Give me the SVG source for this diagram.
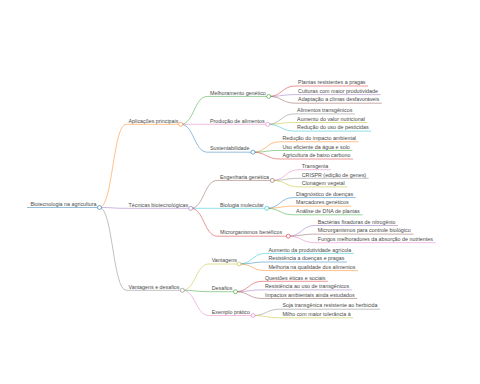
<svg xmlns="http://www.w3.org/2000/svg" width="480" height="384" viewBox="0 0 480 384">
<style>
text{font-family:"Liberation Sans",Arial,sans-serif;font-size:5.35px;fill:#4a4a4a}
path,line{fill:none;stroke-width:0.65;stroke-opacity:0.75}
circle{fill:#fff;stroke-width:0.7;stroke-opacity:0.85}
.blue{stroke:#1f77b4}.orange{stroke:#ff7f0e}.green{stroke:#2ca02c}.red{stroke:#d62728}.purple{stroke:#9467bd}
.brown{stroke:#8c564b}.pink{stroke:#e377c2}.gray{stroke:#7f7f7f}.olive{stroke:#bcbd22}.cyan{stroke:#17becf}
</style>
<rect width="480" height="384" fill="#fff"/>
<g id="connectors">
<path class="orange" d="M99.5,207.5C112.85,207.5 112.85,124.3 126.2,124.3"/>
<path class="purple" d="M99.5,207.5C112.85,207.5 112.85,208.3 126.2,208.3"/>
<path class="gray" d="M99.5,207.5C112.85,207.5 112.85,290.3 126.2,290.3"/>
<path class="green" d="M180.7,124.3C194.05,124.3 194.05,96.4 207.4,96.4"/>
<path class="pink" d="M180.7,124.3C194.05,124.3 194.05,124.3 207.4,124.3"/>
<path class="blue" d="M180.7,124.3C194.05,124.3 194.05,152.2 207.4,152.2"/>
<path class="brown" d="M190.7,208.3C204.05,208.3 204.05,180.4 217.4,180.4"/>
<path class="cyan" d="M190.7,208.3C204.05,208.3 204.05,208.3 217.4,208.3"/>
<path class="red" d="M190.7,208.3C204.05,208.3 204.05,236.2 217.4,236.2"/>
<path class="olive" d="M182.3,290.3C195.65,290.3 195.65,264 209,264"/>
<path class="green" d="M182.3,290.3C195.65,290.3 195.65,291.7 209,291.7"/>
<path class="pink" d="M182.3,290.3C195.65,290.3 195.65,315.5 209,315.5"/>
<path class="red" d="M268.7,96.4C282.05,96.4 282.05,86 295.4,86"/>
<path class="purple" d="M268.7,96.4C282.05,96.4 282.05,94.6 295.4,94.6"/>
<path class="brown" d="M268.7,96.4C282.05,96.4 282.05,103.2 295.4,103.2"/>
<path class="gray" d="M267.7,124.3C281.05,124.3 281.05,113.9 294.4,113.9"/>
<path class="olive" d="M267.7,124.3C281.05,124.3 281.05,122.5 294.4,122.5"/>
<path class="cyan" d="M267.7,124.3C281.05,124.3 281.05,131.1 294.4,131.1"/>
<path class="orange" d="M253,152.2C266.35,152.2 266.35,141.8 279.7,141.8"/>
<path class="green" d="M253,152.2C266.35,152.2 266.35,150.4 279.7,150.4"/>
<path class="red" d="M253,152.2C266.35,152.2 266.35,159 279.7,159"/>
<path class="pink" d="M272.3,180.4C285.65,180.4 285.65,169.7 299,169.7"/>
<path class="gray" d="M272.3,180.4C285.65,180.4 285.65,178.3 299,178.3"/>
<path class="olive" d="M272.3,180.4C285.65,180.4 285.65,186.9 299,186.9"/>
<path class="blue" d="M266.7,208.3C280.05,208.3 280.05,197.6 293.4,197.6"/>
<path class="orange" d="M266.7,208.3C280.05,208.3 280.05,206.2 293.4,206.2"/>
<path class="green" d="M266.7,208.3C280.05,208.3 280.05,214.8 293.4,214.8"/>
<path class="purple" d="M288.3,236.2C301.65,236.2 301.65,225.5 315,225.5"/>
<path class="brown" d="M288.3,236.2C301.65,236.2 301.65,234.1 315,234.1"/>
<path class="pink" d="M288.3,236.2C301.65,236.2 301.65,242.7 315,242.7"/>
<path class="cyan" d="M239,264C252.35,264 252.35,253.4 265.7,253.4"/>
<path class="blue" d="M239,264C252.35,264 252.35,262 265.7,262"/>
<path class="orange" d="M239,264C252.35,264 252.35,270.6 265.7,270.6"/>
<path class="red" d="M235.5,291.7C248.85,291.7 248.85,281.3 262.2,281.3"/>
<path class="purple" d="M235.5,291.7C248.85,291.7 248.85,289.9 262.2,289.9"/>
<path class="brown" d="M235.5,291.7C248.85,291.7 248.85,298.5 262.2,298.5"/>
<path class="gray" d="M253,315.5C266.35,315.5 266.35,309.2 279.7,309.2"/>
<path class="olive" d="M253,315.5C266.35,315.5 266.35,317.8 279.7,317.8"/>
</g>
<g id="root"><line class="blue" x1="27" y1="207.5" x2="99.5" y2="207.5"/><text x="30.5" y="205.7">Biotecnologia na agricultura</text><circle class="blue" cx="99.5" cy="207.5" r="2"/></g>
<g id="aplicacoes"><line class="orange" x1="126.2" y1="124.3" x2="180.7" y2="124.3"/><text x="128.5" y="122.5">Aplicações principais</text><circle class="orange" cx="180.7" cy="124.3" r="2"/></g>
<g id="tecnicas"><line class="purple" x1="126.2" y1="208.3" x2="190.7" y2="208.3"/><text x="128.5" y="206.5">Técnicas biotecnológicas</text><circle class="purple" cx="190.7" cy="208.3" r="2"/></g>
<g id="vantagens-desafios"><line class="gray" x1="126.2" y1="290.3" x2="182.3" y2="290.3"/><text x="128.5" y="288.5">Vantagens e desafios</text><circle class="gray" cx="182.3" cy="290.3" r="2"/></g>
<g id="melhoramento"><line class="green" x1="207.4" y1="96.4" x2="268.7" y2="96.4"/><text x="210" y="94.6">Melhoramento genético</text><circle class="green" cx="268.7" cy="96.4" r="2"/></g>
<g id="producao"><line class="pink" x1="207.4" y1="124.3" x2="267.7" y2="124.3"/><text x="210" y="122.5">Produção de alimentos</text><circle class="pink" cx="267.7" cy="124.3" r="2"/></g>
<g id="sustentabilidade"><line class="blue" x1="207.4" y1="152.2" x2="253" y2="152.2"/><text x="210" y="150.4">Sustentabilidade</text><circle class="blue" cx="253" cy="152.2" r="2"/></g>
<g id="engenharia"><line class="brown" x1="217.4" y1="180.4" x2="272.3" y2="180.4"/><text x="220" y="178.6">Engenharia genética</text><circle class="brown" cx="272.3" cy="180.4" r="2"/></g>
<g id="biologia"><line class="cyan" x1="217.4" y1="208.3" x2="266.7" y2="208.3"/><text x="220" y="206.5">Biologia molecular</text><circle class="cyan" cx="266.7" cy="208.3" r="2"/></g>
<g id="microrganismos"><line class="red" x1="217.4" y1="236.2" x2="288.3" y2="236.2"/><text x="220" y="234.4">Microrganismos benéficos</text><circle class="red" cx="288.3" cy="236.2" r="2"/></g>
<g id="vantagens"><line class="olive" x1="209" y1="264" x2="239" y2="264"/><text x="211.7" y="262.2">Vantagens</text><circle class="olive" cx="239" cy="264" r="2"/></g>
<g id="desafios"><line class="green" x1="209" y1="291.7" x2="235.5" y2="291.7"/><text x="211.7" y="289.9">Desafios</text><circle class="green" cx="235.5" cy="291.7" r="2"/></g>
<g id="exemplo"><line class="pink" x1="209" y1="315.5" x2="253" y2="315.5"/><text x="211.7" y="313.7">Exemplo prático</text><circle class="pink" cx="253" cy="315.5" r="2"/></g>
<g id="leaf-plantas"><line class="red" x1="295.4" y1="86" x2="368" y2="86"/><text x="298.1" y="84.2">Plantas resistentes a pragas</text></g>
<g id="leaf-culturas"><line class="purple" x1="295.4" y1="94.6" x2="380.6" y2="94.6"/><text x="298.1" y="92.8">Culturas com maior produtividade</text></g>
<g id="leaf-adaptacao"><line class="brown" x1="295.4" y1="103.2" x2="381.8" y2="103.2"/><text x="298.1" y="101.4">Adaptação a climas desfavoráveis</text></g>
<g id="leaf-alimentos"><line class="gray" x1="294.4" y1="113.9" x2="354.9" y2="113.9"/><text x="297.1" y="112.1">Alimentos transgênicos</text></g>
<g id="leaf-aumento-valor"><line class="olive" x1="294.4" y1="122.5" x2="367.4" y2="122.5"/><text x="297.1" y="120.7">Aumento do valor nutricional</text></g>
<g id="leaf-reducao-pesticidas"><line class="cyan" x1="294.4" y1="131.1" x2="371.3" y2="131.1"/><text x="297.1" y="129.3">Redução do uso de pesticidas</text></g>
<g id="leaf-reducao-impacto"><line class="orange" x1="279.7" y1="141.8" x2="358.6" y2="141.8"/><text x="282.4" y="140">Redução do impacto ambiental</text></g>
<g id="leaf-uso"><line class="green" x1="279.7" y1="150.4" x2="352.4" y2="150.4"/><text x="282.4" y="148.6">Uso eficiente da água e solo</text></g>
<g id="leaf-agricultura"><line class="red" x1="279.7" y1="159" x2="353" y2="159"/><text x="282.4" y="157.2">Agricultura de baixo carbono</text></g>
<g id="leaf-transgenia"><line class="pink" x1="299" y1="169.7" x2="331" y2="169.7"/><text x="301.7" y="167.9">Transgenia</text></g>
<g id="leaf-crispr"><line class="gray" x1="299" y1="178.3" x2="368.7" y2="178.3"/><text x="301.7" y="176.5">CRISPR (edição de genes)</text></g>
<g id="leaf-clonagem"><line class="olive" x1="299" y1="186.9" x2="347.3" y2="186.9"/><text x="301.7" y="185.1">Clonagem vegetal</text></g>
<g id="leaf-diagnostico"><line class="blue" x1="293.4" y1="197.6" x2="355.7" y2="197.6"/><text x="296.1" y="195.8">Diagnóstico de doenças</text></g>
<g id="leaf-marcadores"><line class="orange" x1="293.4" y1="206.2" x2="351.2" y2="206.2"/><text x="296.1" y="204.4">Marcadores genéticos</text></g>
<g id="leaf-analise"><line class="green" x1="293.4" y1="214.8" x2="362.5" y2="214.8"/><text x="296.1" y="213">Análise de DNA de plantas</text></g>
<g id="leaf-bacterias"><line class="purple" x1="315" y1="225.5" x2="398.1" y2="225.5"/><text x="317.7" y="223.7">Bactérias fixadoras de nitrogênio</text></g>
<g id="leaf-micro-controle"><line class="brown" x1="315" y1="234.1" x2="413.3" y2="234.1"/><text x="317.7" y="232.3">Microrganismos para controle biológico</text></g>
<g id="leaf-fungos"><line class="pink" x1="315" y1="242.7" x2="435.6" y2="242.7"/><text x="317.7" y="240.9">Fungos melhoradores da absorção de nutrientes</text></g>
<g id="leaf-aumento-prod"><line class="cyan" x1="265.7" y1="253.4" x2="353.9" y2="253.4"/><text x="268.4" y="251.6">Aumento da produtividade agrícola</text></g>
<g id="leaf-resistencia-doencas"><line class="blue" x1="265.7" y1="262" x2="347" y2="262"/><text x="268.4" y="260.2">Resistência a doenças e pragas</text></g>
<g id="leaf-melhoria"><line class="orange" x1="265.7" y1="270.6" x2="358" y2="270.6"/><text x="268.4" y="268.8">Melhoria na qualidade dos alimentos</text></g>
<g id="leaf-questoes"><line class="red" x1="262.2" y1="281.3" x2="328.1" y2="281.3"/><text x="264.9" y="279.5">Questões éticas e sociais</text></g>
<g id="leaf-resistencia-transg"><line class="purple" x1="262.2" y1="289.9" x2="351.8" y2="289.9"/><text x="264.9" y="288.1">Resistência ao uso de transgênicos</text></g>
<g id="leaf-impactos"><line class="brown" x1="262.2" y1="298.5" x2="357.2" y2="298.5"/><text x="264.9" y="296.7">Impactos ambientais ainda estudados</text></g>
<g id="leaf-soja"><line class="gray" x1="279.7" y1="309.2" x2="380.1" y2="309.2"/><text x="282.4" y="307.4">Soja transgênica resistente ao herbicida</text></g>
<g id="leaf-milho"><line class="olive" x1="279.7" y1="317.8" x2="353.3" y2="317.8"/><text x="282.4" y="316">Milho com maior tolerância à</text></g>
</svg>
